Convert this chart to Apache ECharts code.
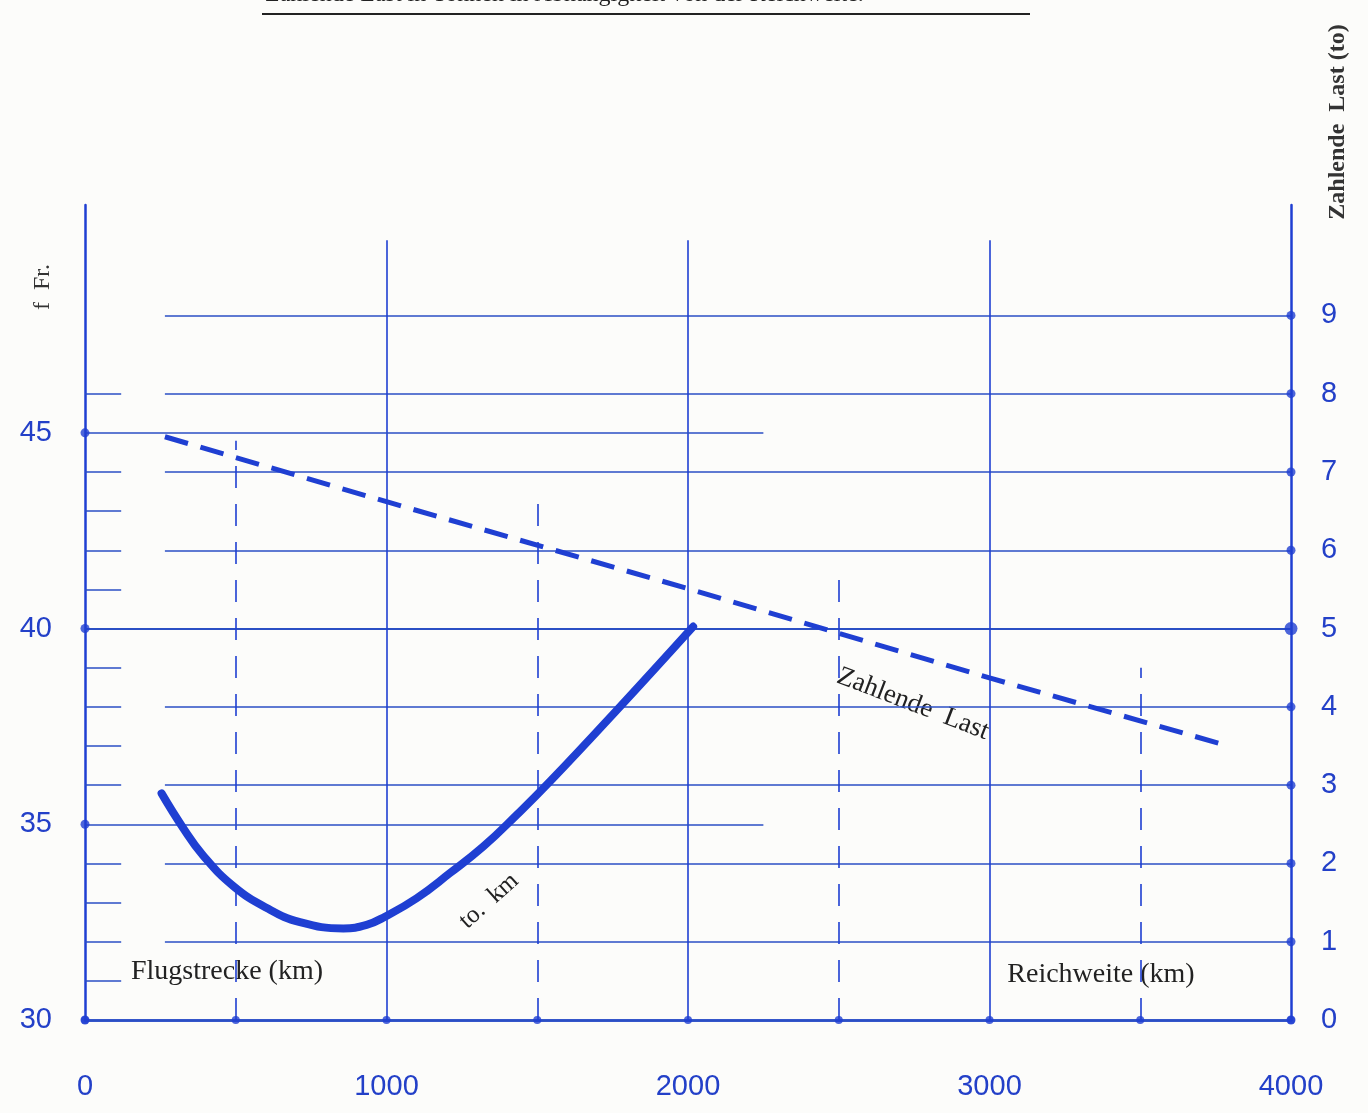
<!DOCTYPE html>
<html><head><meta charset="utf-8">
<script src="https://cdn.jsdelivr.net/npm/echarts@6/dist/echarts.min.js"></script>
<style>html,body{margin:0;padding:0;background:#fcfcfa;}#c{width:1368px;height:1113px;}</style>
</head><body><div id="c"></div>
<script>
// ---- data ----
const xTicks = [0, 1000, 2000, 3000, 4000];
const leftTicks = [30, 35, 40, 45];
const rightTicks = [0, 1, 2, 3, 4, 5, 6, 7, 8, 9];
// cost curve (f Fr. per to.km) vs Flugstrecke (km)
const costKm = [254, 326, 392, 492, 603, 713, 857, 934, 995, 1100, 1210, 1321, 1432, 1542, 1774, 2017];
const costFr = [35.79, 34.9, 34.2, 33.42, 32.86, 32.5, 32.34, 32.43, 32.64, 33.11, 33.75, 34.43, 35.24, 36.09, 38.0, 40.05];
// payload (to) vs Reichweite (km)
const loadKm = [265, 1000, 2000, 3000, 3765];
const loadTo = [7.45, 6.62, 5.51, 4.37, 3.53];
// grid helpers
const tonLines = [1, 2, 3, 4, 6, 7, 8, 9];
const fullTonLines = [0, 5];
const shortFrLines = [35, 45];
const frMinorTicks = [31, 32, 33, 34, 36, 37, 38, 39, 41, 42, 43, 44, 46];
const solidVert = [1000, 2000, 3000];
const dashedVert = [500, 1500, 2500, 3500];
const dashedVertTop = [7.4, 6.75, 5.75, 4.5];
const bottomDots = [0, 500, 1000, 1500, 2000, 2500, 3000, 3500, 4000];

const BLUE = '#1f3fd2';
const GRID = '#2b4fc4';
const labelFont = {color: '#2340c8', fontFamily: 'Liberation Sans, Arial, sans-serif', fontSize: 29};

function seg(a, b, style) { return [{coord: a, lineStyle: style}, {coord: b}]; }

const gridTonSegs = [];
tonLines.forEach(t => gridTonSegs.push(seg([265, t], [4000, t], {color: GRID, width: 1.5, type: 'solid'})));
fullTonLines.forEach(t => gridTonSegs.push(seg([0, t], [4000, t], {color: GRID, width: t === 0 ? 2.5 : 1.8, type: 'solid'})));
solidVert.forEach(x => gridTonSegs.push(seg([x, 0], [x, 9.96], {color: BLUE, width: 1.6, type: 'solid'})));
dashedVert.forEach((x, i) => gridTonSegs.push(seg([x, 0], [x, dashedVertTop[i]], {color: BLUE, width: 1.6, type: [22, 16]})));

const frSegs = [];
shortFrLines.forEach(v => frSegs.push(seg([0, v], [2250, v], {color: GRID, width: 1.5, type: 'solid'})));
frMinorTicks.forEach(v => frSegs.push(seg([0, v], [120, v], {color: GRID, width: 1.5, type: 'solid'})));

const chart = echarts.init(document.getElementById('c'), null, {renderer: 'canvas'});
chart.setOption({
  backgroundColor: '#fcfcfa',
  animation: false,
  grid: {left: 85, right: 77, top: 205, bottom: 93},
  xAxis: {
    type: 'value', min: 0, max: 4000, interval: 1000,
    axisLine: {show: true, lineStyle: {color: BLUE, width: 2.5}},
    axisTick: {show: false}, splitLine: {show: false},
    axisLabel: Object.assign({margin: 52, formatter: v => xTicks.includes(v) ? String(v) : ''}, labelFont)
  },
  yAxis: [
    {
      type: 'value', min: 30, max: 50.82, interval: 5, position: 'left',
      axisLine: {show: true, onZero: false, lineStyle: {color: BLUE, width: 2.5}},
      axisTick: {show: false}, splitLine: {show: false},
      axisLabel: Object.assign({margin: 33, showMaxLabel: false, formatter: v => leftTicks.includes(v) ? String(v) : ''}, labelFont)
    },
    {
      type: 'value', min: 0, max: 10.41, interval: 1, position: 'right',
      axisLine: {show: true, onZero: false, lineStyle: {color: BLUE, width: 2.5}},
      axisTick: {show: false}, splitLine: {show: false},
      axisLabel: Object.assign({margin: 30, showMaxLabel: false, formatter: v => rightTicks.includes(v) ? String(v) : ''}, labelFont)
    }
  ],
  series: [
    {
      name: 'grid-ton', type: 'line', yAxisIndex: 1, data: [], silent: true,
      markLine: {symbol: 'none', silent: true, label: {show: false}, data: gridTonSegs}
    },
    {
      name: 'grid-fr', type: 'line', yAxisIndex: 0, data: [], silent: true,
      markLine: {symbol: 'none', silent: true, label: {show: false}, data: frSegs}
    },
    {
      name: 'Zahlende Last', type: 'line', yAxisIndex: 1,
      data: loadKm.map((x, i) => [x, loadTo[i]]),
      symbol: 'none', lineStyle: {color: BLUE, width: 5, type: [24, 13]}, z: 5
    },
    {
      name: 'to. km', type: 'line', yAxisIndex: 0, smooth: 0.45,
      data: costKm.map((x, i) => [x, costFr[i]]),
      symbol: 'none', lineStyle: {color: BLUE, width: 8, cap: 'round'}, z: 6
    },
    {
      name: 'dots-bottom', type: 'scatter', yAxisIndex: 1, symbolSize: 8,
      data: bottomDots.map(x => [x, 0]), itemStyle: {color: BLUE}, z: 7
    },
    {
      name: 'dots-left', type: 'scatter', yAxisIndex: 0, symbolSize: 9,
      data: leftTicks.map(v => [0, v]), itemStyle: {color: BLUE}, z: 7
    },
    {
      name: 'dots-right', type: 'scatter', yAxisIndex: 1,
      symbolSize: v => v[1] === 5 ? 13 : 9,
      data: rightTicks.map(v => [4000, v]), itemStyle: {color: BLUE}, z: 7
    }
  ],
  graphic: [
    {type: 'text', left: 265, top: -17, style: {text: 'Zahlende Last in Tonnen in Abhängigkeit von der Reichweite.', font: '24px "Liberation Serif", serif', fill: '#222'}},
    {type: 'line', shape: {x1: 262, y1: 14, x2: 1030, y2: 14}, style: {stroke: '#222', lineWidth: 2}},
    {type: 'text', x: 43, y: 287, rotation: Math.PI / 2, style: {text: 'f  Fr.', font: '24px "Liberation Serif", serif', fill: '#333', align: 'center', verticalAlign: 'middle'}},
    {type: 'text', x: 1338, y: 122, rotation: Math.PI / 2, style: {text: 'Zahlende  Last (to)', font: 'bold 24px "Liberation Serif", serif', fill: '#333', align: 'center', verticalAlign: 'middle'}},
    {type: 'text', x: 227, y: 972, style: {text: 'Flugstrecke (km)', font: '28px "Liberation Serif", serif', fill: '#222', align: 'center', verticalAlign: 'middle'}},
    {type: 'text', x: 1101, y: 975, style: {text: 'Reichweite (km)', font: '28px "Liberation Serif", serif', fill: '#222', align: 'center', verticalAlign: 'middle'}},
    {type: 'text', x: 489, y: 901, rotation: Math.PI * 42 / 180, style: {text: 'to.  km', font: '25px "Liberation Serif", serif', fill: '#222', align: 'center', verticalAlign: 'middle'}},
    {type: 'text', x: 913, y: 704, rotation: -Math.PI * 21 / 180, style: {text: 'Zahlende  Last', font: '27px "Liberation Serif", serif', fill: '#222', align: 'center', verticalAlign: 'middle'}}
  ]
});
</script></body></html>
